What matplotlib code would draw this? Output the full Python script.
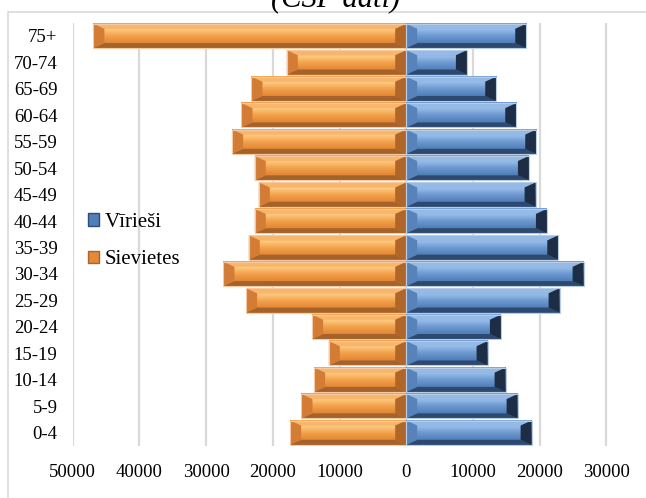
import numpy as np
import matplotlib
matplotlib.use("Agg")
import matplotlib.pyplot as plt
from matplotlib.patches import Polygon, Rectangle, Patch
from matplotlib.ticker import FuncFormatter
from matplotlib.colors import LinearSegmentedColormap

plt.rcParams['font.family'] = ['Liberation Serif', 'DejaVu Serif']

# age groups, bottom to top
ages = ['0-4', '5-9', '10-14', '15-19', '20-24', '25-29', '30-34', '35-39',
        '40-44', '45-49', '50-54', '55-59', '60-64', '65-69', '70-74', '75+']
males = [18800, 16700, 14900, 12200, 14200, 23000, 26600, 22800,
         21100, 19400, 18400, 19500, 16500, 13500, 9100, 18000]
females = [17400, 15700, 13800, 11600, 14100, 24000, 27400, 23600,
           22700, 22100, 22700, 26100, 24700, 23200, 17900, 46900]

W, H = 646, 498
fig = plt.figure(figsize=(W / 100, H / 100), dpi=100)

# outer chart frame
fig.patches.append(Rectangle((8 / W, -0.1), 1.2, 1.1 - 12 / H, transform=fig.transFigure,
                             fill=False, edgecolor='#D9D9D9', linewidth=1.2))

left_px, top_px, bottom_px = 72.7, 22.7, 445.9
ax = fig.add_axes([left_px / W, 1 - bottom_px / H, 1 - left_px / W, (bottom_px - top_px) / H])

xmin = -50000
xmax = (W - 406.2) / 66.7 * 10000

for s in ax.spines.values():
    s.set_visible(False)
for x in range(-50000, 40000, 10000):
    ax.axvline(x, color='#D9D9D9', linewidth=1.6, zorder=0)

# bevel sizes in data units (~11 px wide, ~5 px tall)
bx = 11 / 66.7 * 10000
by = 0.19
hh = 0.46

orange = dict(top='#F8B66C', bottom='#A5622A', left='#D27C35', right='#B06628', edge='#F6C9A0',
              face=['#F19C48', '#FDCA80', '#F4A24D', '#E68B37', '#CF7B31'])
blue = dict(top='#96BAE6', bottom='#2D4970', left='#5882BA', right='#1C2D45', edge='#B8CCE4',
            face=['#6C9AD2', '#96BDEA', '#6E9AD0', '#5482BC', '#4670A5'])


def bevel_bar(ax, c, xa, xb, col):
    y0, y1 = c - hh, c + hh
    ia, ib = xa + bx, xb - bx
    j0, j1 = y0 + by, y1 - by
    cmap = LinearSegmentedColormap.from_list('f', col['face'][::-1])
    grad = np.linspace(0, 1, 64).reshape(-1, 1)
    ax.imshow(grad, extent=(xa, xb, y0, y1), origin='lower', aspect='auto',
              cmap=cmap, interpolation='bilinear', zorder=2)
    ax.add_patch(Polygon([(xa, y1), (xb, y1), (ib, j1), (ia, j1)], closed=True,
                         facecolor=col['top'], edgecolor='none', zorder=3))
    ax.add_patch(Polygon([(xa, y0), (xb, y0), (ib, j0), (ia, j0)], closed=True,
                         facecolor=col['bottom'], edgecolor='none', zorder=3))
    ax.add_patch(Polygon([(xa, y0), (xa, y1), (ia, j1), (ia, j0)], closed=True,
                         facecolor=col['left'], edgecolor='none', zorder=3))
    ax.add_patch(Polygon([(xb, y0), (xb, y1), (ib, j1), (ib, j0)], closed=True,
                         facecolor=col['right'], edgecolor='none', zorder=3))
    ax.add_patch(Rectangle((xa, y0), xb - xa, y1 - y0, fill=False,
                           edgecolor=col['edge'], linewidth=0.8, zorder=4))


for i in range(len(ages)):
    bevel_bar(ax, i, -females[i], 0, orange)
    bevel_bar(ax, i, 0, males[i], blue)

ax.set_xlim(xmin, xmax)
ax.set_ylim(-0.5, len(ages) - 0.5)

ax.set_yticks(range(len(ages)))
ax.set_yticklabels(ages)
ax.set_xticks(range(-50000, 40000, 10000))
ax.xaxis.set_major_formatter(FuncFormatter(lambda v, p: f'{abs(int(v))}'))
ax.tick_params(axis='both', length=0, labelsize=13.5, colors='black')
ax.tick_params(axis='y', pad=11)
ax.tick_params(axis='x', pad=13)

handles = [Patch(facecolor='#4F7EB8', edgecolor='#2F4C73'),
           Patch(facecolor='#E08A3A', edgecolor='#A8652A')]
ax.legend(handles, ['Vīrieši', 'Sievietes'], loc='center left',
          bbox_to_anchor=(0.008, 0.484), frameon=False, fontsize=15, borderpad=0,
          handlelength=0.55, handleheight=0.55, handletextpad=0.25, labelspacing=0.88)

fig.text(335.5 / W, 1 - 7 / H, '(CSP dati)', ha='center', va='baseline',
         fontsize=22, style='italic')

fig.savefig('out.png', dpi=100)
